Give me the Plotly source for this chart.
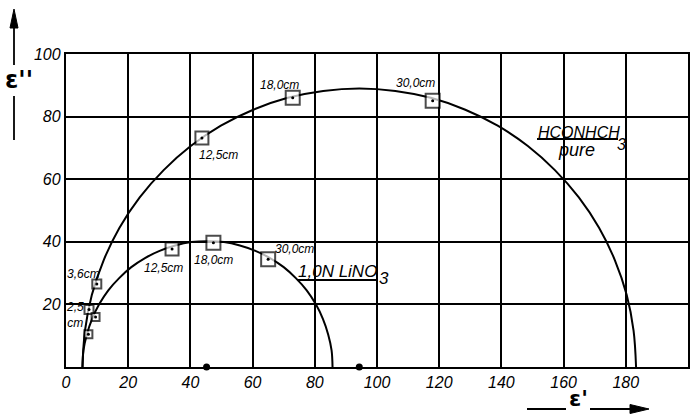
import plotly.graph_objects as go

# ---------------- data ----------------
x_tick_vals = [0, 20, 40, 60, 80, 100, 120, 140, 160, 180, 200]
y_tick_vals = [20, 40, 60, 80, 100]

# measured points (open squares) - pure HCONHCH3
pure_pts_x = [7.4, 9.9, 43.7, 72.9, 117.9]
pure_pts_y = [18.4, 26.5, 73.2, 86.0, 85.1]
pure_pts_len = ["2,5 cm", "3,6 cm", "12,5 cm", "18,0 cm", "30,0 cm"]

# measured points - 1,0N LiNO3
lino3_pts_x = [7.2, 9.5, 34.1, 47.4, 65.0]
lino3_pts_y = [10.5, 16.0, 37.7, 39.7, 34.4]
lino3_pts_len = ["2,5 cm", "3,6 cm", "12,5 cm", "18,0 cm", "30,0 cm"]

# arcs
pure_curve_x = [5.3, 6.1, 8.3, 12.1, 17.2, 23.7, 31.4, 40.1, 49.8, 60.2, 71.3, 82.7,
                94.3, 105.9, 117.3, 128.4, 138.8, 148.5, 157.2, 164.9, 171.4, 176.5,
                180.3, 182.5, 183.3]
pure_curve_y = [0.0, 11.6, 23.0, 34.1, 44.5, 54.2, 62.9, 70.6, 77.1, 82.2, 86.0, 88.2,
                89.0, 88.2, 86.0, 82.2, 77.1, 70.6, 62.9, 54.2, 44.5, 34.1,
                23.0, 11.6, 0.0]

lino3_curve_x = [5.3, 5.6, 6.7, 8.4, 10.7, 13.6, 17.1, 21.0, 25.4, 30.1, 35.1, 40.3,
                 45.5, 50.8, 55.9, 60.9, 65.6, 70.0, 73.9, 77.4, 80.3, 82.6,
                 84.3, 85.4, 85.7]
lino3_curve_y = [0.0, 5.3, 10.4, 15.4, 20.1, 24.5, 28.4, 31.9, 34.8, 37.1, 38.8, 39.9,
                 40.2, 39.9, 38.8, 37.1, 34.8, 31.9, 28.4, 24.5, 20.1, 15.4,
                 10.4, 5.3, 0.0]

# centres of the arcs (dots on the abscissa)
centre_x = [45.2, 94.3]
centre_y = [0.0, 0.0]

# ---------------- layout geometry ----------------
W, H = 699, 414
ML, MR, MT, MB = 66, 11, 54, 47
PW, PH = W - ML - MR, H - MT - MB


def px(x):
    return (x - ML) / PW


def py(y):
    return (H - MB - y) / PH


FONT = "Liberation Sans"
BLACK = "#000000"

fig = go.Figure()

for cx, cy in ((pure_curve_x, pure_curve_y), (lino3_curve_x, lino3_curve_y)):
    fig.add_trace(go.Scatter(x=cx, y=cy, mode="lines",
                             line=dict(color=BLACK, width=2, shape="spline", smoothing=1.0),
                             hoverinfo="skip", showlegend=False))

for sx, sy, st, sizes in ((pure_pts_x, pure_pts_y, pure_pts_len, [9, 9, 13, 14, 14]),
                          (lino3_pts_x, lino3_pts_y, lino3_pts_len, [8, 8, 13, 14, 14])):
    fig.add_trace(go.Scatter(x=sx, y=sy, mode="markers", text=st,
                             marker=dict(symbol="square", size=sizes, color="white",
                                         line=dict(width=2, color=BLACK)),
                             showlegend=False))
    fig.add_trace(go.Scatter(x=sx, y=sy, mode="markers", hoverinfo="skip",
                             marker=dict(symbol="circle", size=3, color=BLACK),
                             showlegend=False))

fig.add_trace(go.Scatter(x=centre_x, y=centre_y, mode="markers",
                         marker=dict(symbol="circle", size=7, color=BLACK),
                         cliponaxis=False, showlegend=False))

small = dict(family=FONT, size=12, color=BLACK)
labels = [
    (5.5, 29.7, "3,6cm"),
    (2.9, 16.6, "2,5<br>cm"),
    (31.2, 31.6, "12,5cm"),
    (47.3, 34.2, "18,0cm"),
    (73.6, 37.7, "30,0cm"),
    (48.9, 67.7, "12,5cm"),
    (68.5, 90.1, "18,0cm"),
    (112.5, 90.7, "30,0cm"),
]
for lx, ly, t in labels:
    fig.add_annotation(x=lx, y=ly, text="<i>" + t.replace("<br>", "</i><br><i>") + "</i>",
                       showarrow=False, font=small, xanchor="center", yanchor="middle")

big = dict(family=FONT, size=17, color=BLACK)
fig.add_annotation(xref="paper", yref="paper", x=px(296), y=py(271), text="<i>1,0N LiNO</i>",
                   showarrow=False, font=big, xanchor="left", yanchor="middle")
fig.add_annotation(xref="paper", yref="paper", x=px(384), y=py(278), text="<i>3</i>",
                   showarrow=False, font=big, xanchor="center", yanchor="middle")
fig.add_annotation(xref="paper", yref="paper", x=px(536), y=py(132), text="<i>HCONHCH</i>",
                   showarrow=False, font=dict(family=FONT, size=16, color=BLACK),
                   xanchor="left", yanchor="middle")
fig.add_annotation(xref="paper", yref="paper", x=px(621), y=py(144), text="<i>3</i>",
                   showarrow=False, font=dict(family=FONT, size=16, color=BLACK),
                   xanchor="center", yanchor="middle")
fig.add_annotation(xref="paper", yref="paper", x=px(576), y=py(150), text="<i>pure</i>",
                   showarrow=False, font=dict(family=FONT, size=18, color=BLACK),
                   xanchor="center", yanchor="middle")

# axis titles with arrows
fig.add_annotation(xref="paper", yref="paper", x=px(19), y=py(80), text="<b>ε''</b>",
                   showarrow=False, font=dict(family="DejaVu Sans", size=24, color=BLACK),
                   xanchor="center", yanchor="middle")
fig.add_annotation(xref="paper", yref="paper", x=px(578), y=py(413), text="<b>ε'</b>",
                   showarrow=False, font=dict(family="DejaVu Sans", size=22, color=BLACK),
                   xanchor="center", yanchor="bottom")

shapes = []
lw = dict(color=BLACK, width=1.8)
# underline marks
shapes.append(dict(type="line", xref="paper", yref="paper", x0=px(297), x1=px(378),
                   y0=py(280), y1=py(280), line=lw))
shapes.append(dict(type="line", xref="paper", yref="paper", x0=px(537), x1=px(618),
                   y0=py(139), y1=py(139), line=lw))
# vertical arrow
shapes.append(dict(type="line", xref="paper", yref="paper", x0=px(14), x1=px(14),
                   y0=py(140), y1=py(96), line=lw))
shapes.append(dict(type="line", xref="paper", yref="paper", x0=px(14), x1=px(14),
                   y0=py(65), y1=py(26), line=lw))
shapes.append(dict(type="path", xref="paper", yref="paper",
                   path=f"M {px(14)} {py(9)} L {px(10)} {py(28)} L {px(18)} {py(28)} Z",
                   fillcolor=BLACK, line=dict(color=BLACK, width=1)))
# horizontal arrow
shapes.append(dict(type="line", xref="paper", yref="paper", x0=px(527), x1=px(566),
                   y0=py(409), y1=py(409), line=lw))
shapes.append(dict(type="line", xref="paper", yref="paper", x0=px(590), x1=px(632),
                   y0=py(409), y1=py(409), line=lw))
shapes.append(dict(type="path", xref="paper", yref="paper",
                   path=f"M {px(649)} {py(409)} L {px(630)} {py(404.5)} L {px(630)} {py(413.5)} Z",
                   fillcolor=BLACK, line=dict(color=BLACK, width=1)))

tickfont = dict(family=FONT, size=16, color=BLACK)

fig.update_layout(
    width=W, height=H,
    margin=dict(l=ML, r=MR, t=MT, b=MB, pad=0),
    paper_bgcolor="white", plot_bgcolor="white",
    shapes=shapes,
    xaxis=dict(range=[0, 200], tickvals=x_tick_vals,
               ticktext=["<i>%d</i>" % v for v in x_tick_vals],
               showgrid=True, gridcolor=BLACK, gridwidth=1.6, zeroline=False,
               showline=True, mirror=True, linecolor=BLACK, linewidth=2.4,
               ticks="", tickfont=tickfont, automargin=False, fixedrange=True),
    yaxis=dict(range=[0, 100], tickvals=y_tick_vals,
               ticktext=["<i>%d</i>" % v for v in y_tick_vals],
               showgrid=True, gridcolor=BLACK, gridwidth=1.6, zeroline=False,
               showline=True, mirror=True, linecolor=BLACK, linewidth=2.4,
               ticks="", tickfont=tickfont, automargin=False, fixedrange=True),
)

fig.write_html("out.html", config={"displayModeBar": False},
               post_script="document.body.style.margin='0';")
